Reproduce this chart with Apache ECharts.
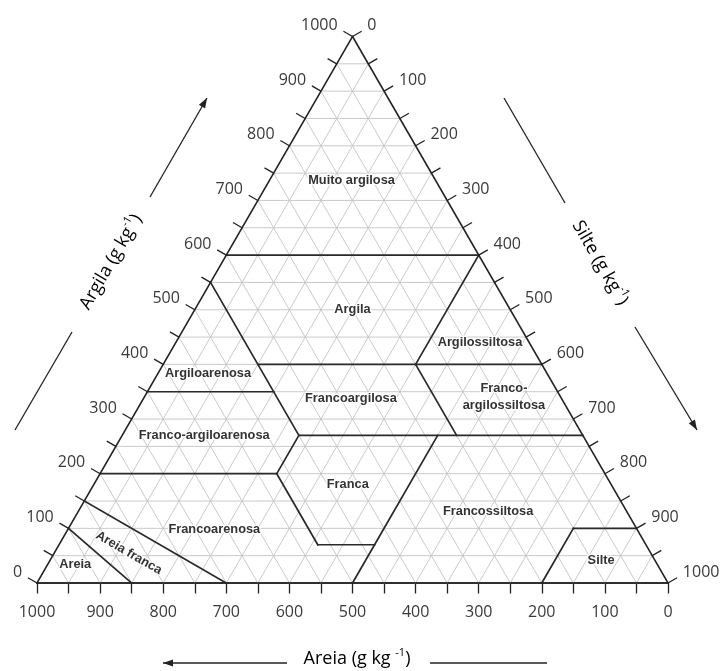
<!DOCTYPE html>
<html><head><meta charset="utf-8">
<script src="https://cdn.jsdelivr.net/npm/echarts@6/dist/echarts.min.js"></script>
<style>html,body{margin:0;padding:0;background:#fff}#chart{width:721px;height:671px}</style>
</head><body><div id="chart"></div>
<script>
// ---------------- DATA (g kg-1) ----------------
// every point is [areia (sand), silte (silt), argila (clay)]
const tickValues = [0,50,100,150,200,250,300,350,400,450,500,550,600,650,700,750,800,850,900,950,1000];
const labelValues = [0,100,200,300,400,500,600,700,800,900,1000];
const gridValues = [50,100,150,200,250,300,350,400,450,500,550,600,650,700,750,800,850,900,950];

// textural class boundaries (segment endpoints)
const boundaries = [
  [[400,0,600],[0,400,600]],
  [[450,0,550],[450,280,270]],
  [[450,150,400],[0,600,400]],
  [[0,400,600],[200,400,400]],
  [[200,400,400],[200,530,270]],
  [[650,0,350],[450,200,350]],
  [[450,280,270],[0,730,270]],
  [[450,280,270],[520,280,200]],
  [[800,0,200],[520,280,200]],
  [[520,280,200],[520,410,70]],
  [[520,410,70],[430,500,70]],
  [[230,500,270],[500,500,0]],
  [[200,800,0],[100,800,100]],
  [[100,800,100],[0,900,100]],
  [[850,0,150],[700,300,0]],
  [[900,0,100],[850,150,0]]
];
const outline = [
  [[1000,0,0],[0,0,1000]],
  [[0,0,1000],[0,1000,0]],
  [[0,1000,0],[1000,0,0]]
];
const classNames = ['Muito argilosa','Argila','Argilossiltosa','Argiloarenosa','Francoargilosa',
  'Franco-\nargilossiltosa','Franco-argiloarenosa','Franca','Francossiltosa','Francoarenosa',
  'Areia franca','Areia','Silte'];
const classPositions = [[133,130,737],[250,250,500],[78,482,440],[537,79,384],[334,329,337],
  [90,570,340],[600,130,270],[417,402,181],[220,650,130],[670,232,98],
  [827,118,55],[923,44,33],[85,873,42]];
const classRotation = [0,0,0,0,0,0,0,0,0,0,-30,0,0];

// ---------------- HELPERS ----------------
// x axis is the sand axis (inverse), y axis is clay
function toXY(p){ return [p[0] + p[2]/2, p[2]]; }

function gridSegments(){
  const segs = [];
  gridValues.forEach(v => {
    segs.push([[1000-v,0,v],[0,1000-v,v]]);   // constant clay
    segs.push([[v,1000-v,0],[v,0,1000-v]]);   // constant sand
    segs.push([[1000-v,v,0],[0,v,1000-v]]);   // constant silt
  });
  return segs;
}

function segSeries(segs, stroke, width, z){
  return {
    type:'custom', coordinateSystem:'cartesian2d', clip:false, silent:true, z:z,
    data: segs.map(s => { const a = toXY(s[0]), b = toXY(s[1]); return [a[0],a[1],b[0],b[1]]; }),
    encode:{x:[0,2], y:[1,3]},
    renderItem:function(params, api){
      const p1 = api.coord([api.value(0), api.value(1)]);
      const p2 = api.coord([api.value(2), api.value(3)]);
      return {type:'line', shape:{x1:p1[0],y1:p1[1],x2:p2[0],y2:p2[1]},
        style:{stroke:stroke, lineWidth:width, lineCap:'square'}};
    }
  };
}

const TXT = '#3a3a3a';
const tickFont = '16px "Open Sans"';

function sideAxisSeries(side){
  // side 'left' = argila, 'right' = silte
  return {
    type:'custom', coordinateSystem:'cartesian2d', clip:false, silent:true, z:5,
    data: tickValues.map(v => {
      const p = side === 'left' ? [1000-v,0,v] : [0,v,1000-v];
      const xy = toXY(p);
      return [xy[0], xy[1], v];
    }),
    renderItem:function(params, api){
      const c = api.coord([api.value(0), api.value(1)]);
      const v = api.value(2);
      const dx = side === 'left' ? -0.866 : 0.866, dy = -0.5;
      const L = 10.5;
      const children = [{type:'line', shape:{x1:c[0],y1:c[1],x2:c[0]+dx*L,y2:c[1]+dy*L},
        style:{stroke:'#222', lineWidth:1.3}}];
      if (labelValues.indexOf(v) >= 0) {
        children.push({type:'text', x:c[0]+dx*16 + (side==='left'?-1:1), y:c[1]+dy*16-3,
          style:{text:String(v), font:tickFont, fill:TXT,
            align: side==='left'?'right':'left', verticalAlign:'middle'}});
      }
      return {type:'group', children:children};
    }
  };
}

const labelSeries = {
  type:'custom', coordinateSystem:'cartesian2d', clip:false, silent:true, z:6,
  data: classPositions.map((p,i) => { const xy = toXY(p); return [xy[0], xy[1], i]; }),
  renderItem:function(params, api){
    const c = api.coord([api.value(0), api.value(1)]);
    const i = api.value(2);
    return {type:'text', x:c[0], y:c[1], rotation: classRotation[i]*Math.PI/180,
      style:{text:classNames[i], font:'bold 12.8px "Liberation Sans", Arial, sans-serif',
        fill:'#333', align:'center', verticalAlign:'middle', lineHeight:17,
        stroke:'#fff', lineWidth:2.5}};
  }
};

function arrow(x0,y0,x1,y1,head){
  const parts = [{type:'line', shape:{x1:x0,y1:y0,x2:x1,y2:y1}, style:{stroke:'#222', lineWidth:1.3}}];
  if (head) {
    const ang = Math.atan2(y1-y0, x1-x0), l = 10, w = 3.6;
    const bx = x1 - l*Math.cos(ang), by = y1 - l*Math.sin(ang);
    parts.push({type:'polygon', shape:{points:[[x1,y1],
      [bx + w*Math.sin(ang), by - w*Math.cos(ang)],
      [bx - w*Math.sin(ang), by + w*Math.cos(ang)]]}, style:{fill:'#222'}});
  }
  return parts;
}

const titleRich = {
  t:{fontFamily:'Open Sans', fontSize:18, lineHeight:24, color:TXT},
  s:{fontFamily:'Open Sans', fontSize:11, lineHeight:12, verticalAlign:'top', color:TXT}
};

const chart = echarts.init(document.getElementById('chart'), null, {renderer:'canvas'});
chart.setOption({
  animation:false,
  backgroundColor:'#fff',
  grid:{left:37, top:36.5, width:631, height:546.5, containLabel:false},
  xAxis:{type:'value', min:0, max:1000, interval:50, inverse:true,
    axisLine:{show:true, lineStyle:{color:'#222', width:1.5}},
    axisTick:{show:true, length:10.5, lineStyle:{color:'#222', width:1.3}},
    axisLabel:{show:true, margin:21, fontFamily:'Open Sans', fontSize:16, color:TXT,
      formatter:function(v){ return labelValues.indexOf(v) >= 0 ? String(v) : ''; }},
    splitLine:{show:false}},
  yAxis:{type:'value', min:0, max:1000, show:false},
  series:[
    segSeries(gridSegments(), '#c4c4c4', 0.9, 1),
    segSeries(boundaries, '#2a2a2a', 1.7, 3),
    segSeries(outline, '#222', 1.6, 4),
    sideAxisSeries('left'),
    sideAxisSeries('right'),
    labelSeries
  ],
  graphic:[
    {type:'group', children:[].concat(
      arrow(15,430,72,332,false),
      arrow(150,197,207,98,true),
      arrow(504,98,565,203,false),
      arrow(635,327,697,430,true),
      arrow(287,663,163,663,true),
      arrow(430,663,547,663,false)
    )},
    {type:'text', x:111, y:262, rotation:Math.PI/3,
      style:{text:'{t|Argila (g kg}{s|-1}{t|)}', rich:titleRich, align:'center', verticalAlign:'middle'}},
    {type:'text', x:600, y:263, rotation:-Math.PI/3,
      style:{text:'{t|Silte (g kg}{s|-1}{t|)}', rich:titleRich, align:'center', verticalAlign:'middle'}},
    {type:'text', x:357, y:659,
      style:{text:'{t|Areia (g kg }{s|-1}{t|)}', rich:titleRich, align:'center', verticalAlign:'middle'}}
  ]
});
</script>
</body></html>
